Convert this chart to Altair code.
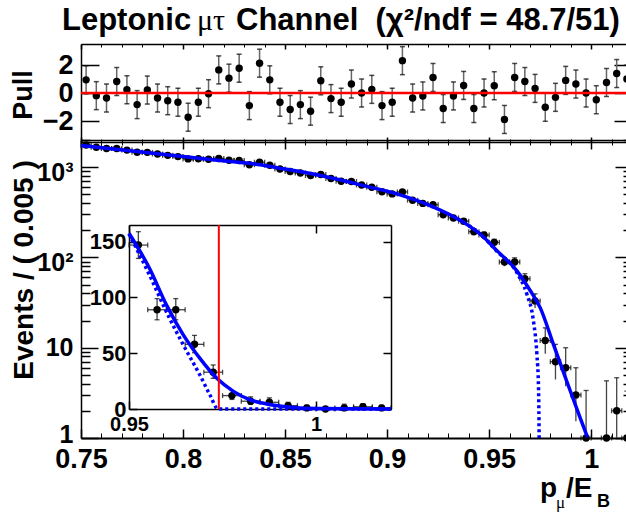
import altair as alt
import pandas as pd

# ---------------- data ----------------
bin_x = [0.7525, 0.7575, 0.7625, 0.7675, 0.7725, 0.7775, 0.7825, 0.7875, 0.7925, 0.7975,
         0.8025, 0.8075, 0.8125, 0.8175, 0.8225, 0.8275, 0.8325, 0.8375, 0.8425, 0.8475,
         0.8525, 0.8575, 0.8625, 0.8675, 0.8725, 0.8775, 0.8825, 0.8875, 0.8925, 0.8975,
         0.9025, 0.9075, 0.9125, 0.9175, 0.9225, 0.9275, 0.9325, 0.9375, 0.9425, 0.9475,
         0.9525, 0.9575, 0.9625, 0.9675, 0.9725, 0.9775, 0.9825, 0.9875, 0.9925, 0.9975,
         1.0025, 1.0075, 1.0125, 1.0175]
counts = [1757, 1662, 1609, 1612, 1545, 1461, 1459, 1397, 1352, 1310,
          1235, 1238, 1224, 1249, 1194, 1185, 1065, 1135, 1049, 954,
          894, 862, 808, 831, 749, 699, 693, 634, 599, 535,
          506, 532, 431, 397, 383, 297, 274, 252, 193, 177,
          147, 89, 89, 58, 33, 12, 7, 6, 3, 1,
          0, 1, 2, 1]
count_lo = [1715, 1621, 1569, 1572, 1506, 1423, 1421, 1360, 1315, 1274,
            1200, 1203, 1189, 1214, 1159, 1151, 1032, 1101, 1017, 923,
            864, 833, 780, 802, 722, 673, 667, 609, 575, 512,
            484, 509, 410, 377, 363, 280, 257, 236, 179, 164,
            135, 80, 80, 50.5, 27.5, 8.6, 4.45, 3.75, 1.53, 0.2,
            0, 0.2, 0.7, 0.2]
count_hi = [1799, 1703, 1649, 1652, 1584, 1499, 1497, 1434, 1389, 1346,
            1270, 1273, 1259, 1284, 1229, 1219, 1098, 1169, 1081, 985,
            924, 891, 836, 860, 776, 725, 719, 659, 623, 558,
            528, 555, 452, 417, 403, 314, 291, 268, 207, 190,
            159, 99, 99, 66, 39.5, 16.6, 10.9, 10, 6.0, 3.36,
            1.15, 4.3, 4.65, 3.3]
pulls = [0.94, -0.19, -0.36, 0.82, 0.23, -0.83, 0.21, -0.36, -0.55, -0.66,
         -1.73, -0.66, -0.05, 1.65, 1.06, 1.77, -0.9, 2.13, 0.94, -0.66,
         -1.18, -0.83, -1.3, 0.87, -0.4, -0.66, 0.64, 0.0, 0.26, -0.9,
         -0.66, 2.31, -0.36, -0.21, 1.11, -1.11, -0.21, 0.54, -1.11, 0.0,
         0.52, -1.89, 1.11, 0.82, 0.33, -1.02, -0.31, 0.9, 0.64, 0.0,
         -0.48, 0.75, 1.39, 1.0]
pull_err = 1.0
bin_half = 0.0025

fit_x = [0.75, 0.775, 0.80, 0.8181, 0.8377, 0.8492, 0.8672, 0.8819, 0.8884, 0.9047,
         0.9211, 0.9374, 0.9456, 0.9538, 0.9636, 0.9701, 0.975, 0.9815, 0.988, 0.9946, 0.9982]
fit_y = [1742, 1514, 1315, 1187, 1064, 960, 809, 681, 625, 506,
         375, 245, 182, 119, 71, 43, 27.8, 10.9, 4.27, 1.67, 1.02]
dot_x = [0.9374, 0.9456, 0.9538, 0.9636, 0.9685, 0.9717, 0.9734, 0.9742, 0.9745]
dot_y = [245, 182, 117, 68, 39, 19.8, 8.4, 3.6, 1.0]

inset_fit_x = [0.95, 0.9555, 0.96, 0.9645, 0.9689, 0.9734, 0.9779, 0.9823, 0.9868, 0.9912, 0.9957, 1.0, 1.02]
inset_fit_y = [157.6, 126, 93.4, 66.5, 45.6, 27.7, 15.8, 8.3, 4.5, 2.3, 1.0, 0.5, 0.0]
inset_dot_x = [0.95, 0.9555, 0.96, 0.9645, 0.9689, 0.9716, 0.9738, 1.02]
inset_dot_y = [157, 120, 87, 57.5, 30.7, 12.8, 0.0, 0.0]
endpoint = [0.974]

x_major = [0.75, 0.8, 0.85, 0.9, 0.95, 1.0]
x_minor = [0.76, 0.77, 0.78, 0.79, 0.81, 0.82, 0.83, 0.84, 0.86, 0.87, 0.88, 0.89,
           0.91, 0.92, 0.93, 0.94, 0.96, 0.97, 0.98, 0.99, 1.01, 1.02]
y_major = [1, 10, 100, 1000]
y_labels_sup = [100, 1000]
y_labels_ten = [10]
y_labels_one = [1]
y_minor = [2, 3, 4, 5, 6, 7, 8, 9, 20, 30, 40, 50, 60, 70, 80, 90,
           200, 300, 400, 500, 600, 700, 800, 900, 2000]
pull_ticks = [-2, 0, 2]
inset_x_ticks = [0.95, 1.0]
inset_y_ticks = [0, 50, 100, 150]

# ---------------- frames ----------------
W, H = 626, 513
FONT = "Liberation Sans, Arial, sans-serif"
SERIF = "Liberation Serif, DejaVu Serif, serif"

def sx_main():
    return alt.Scale(domain=[0.75, 1.02], range=[81, 632], nice=False, zero=False)

def sy_pull():
    return alt.Scale(domain=[-3.5, 3.5], range=[142, 44], nice=False, zero=False)

def sy_main():
    return alt.Scale(type="log", domain=[1, 2000], range=[438, 140], nice=False)

def sx_in():
    return alt.Scale(domain=[0.95, 1.02], range=[129, 391], nice=False, zero=False)

def sy_in():
    return alt.Scale(domain=[0, 165], range=[409, 225], nice=False, zero=False)

df = pd.DataFrame({"x": bin_x, "n": counts, "lo": count_lo, "hi": count_hi, "pull": pulls})
df["xl"] = df["x"] - bin_half
df["xr"] = df["x"] + bin_half
df["plo"] = df["pull"] - pull_err
df["phi"] = df["pull"] + pull_err
df_log = df[df["n"] > 0].copy()
df_log["lo"] = df_log["lo"].clip(lower=1)
df_in = df[df["x"] > 0.95].copy()

fit_df = pd.DataFrame({"x": fit_x, "y": fit_y})
dot_df = pd.DataFrame({"x": dot_x, "y": dot_y})
ifit_df = pd.DataFrame({"x": inset_fit_x, "y": inset_fit_y})
idot_df = pd.DataFrame({"x": inset_dot_x, "y": inset_dot_y})
end_df = pd.DataFrame({"x": endpoint, "y0": [0], "y1": [165]})
zero_df = pd.DataFrame({"xa": [0.75], "xb": [1.02], "y": [0.0]})

dummy = pd.DataFrame({"v": [1.0]})
AX = dict(title=None, grid=False, domainColor="black", tickColor="black",
          labelColor="black", labelFont=FONT, labelFontWeight="bold",
          labelFlush=False, labelOverlap=False, labelBound=False)

def xaxis(scale, **kw):
    a = dict(AX); a.update(kw)
    return alt.Chart(dummy).mark_point(opacity=0, size=1).encode(
        x=alt.X("v:Q", scale=scale, axis=alt.Axis(**a)), y=alt.value(0))

def yaxis(scale, **kw):
    a = dict(AX); a.update(kw)
    return alt.Chart(dummy).mark_point(opacity=0, size=1).encode(
        y=alt.Y("v:Q", scale=scale, axis=alt.Axis(**a)), x=alt.value(0))

LOGLAB = "datum.value == 1000 ? '10\u00b3' : datum.value == 100 ? '10\u00b2' : datum.value == 10 ? '10' : '1'"

layers = []
# ---- pull panel frame ----
fw = 1.5
layers += [
    xaxis(sx_main(), orient="top", offset=-142, values=x_major, tickSize=5, tickWidth=fw, domainWidth=fw, labels=False),
    xaxis(sx_main(), orient="top", offset=-142, values=x_minor, tickSize=3, tickWidth=1, domain=False, labels=False),
    xaxis(sx_main(), orient="bottom", offset=44 - H, values=x_major, tickSize=5, tickWidth=fw, domainWidth=fw, labels=False),
    xaxis(sx_main(), orient="bottom", offset=44 - H, values=x_minor, tickSize=3, tickWidth=1, domain=False, labels=False),
    yaxis(sy_pull(), orient="right", offset=81 - W, values=pull_ticks, tickSize=18, tickWidth=fw, domainWidth=fw, labels=False),
    yaxis(sy_pull(), orient="left", offset=-632, values=pull_ticks, tickSize=18, tickWidth=fw, domainWidth=fw, labels=False),
    yaxis(sy_pull(), orient="left", offset=-81, values=pull_ticks, ticks=False, domain=False,
          labelPadding=8, labelFontSize=27, format="d"),
]
# ---- main panel frame ----
layers += [
    xaxis(sx_main(), orient="bottom", offset=140 - H, values=x_major, tickSize=9, tickWidth=fw, domainWidth=fw, labels=False),
    xaxis(sx_main(), orient="bottom", offset=140 - H, values=x_minor, tickSize=5, tickWidth=1, domain=False, labels=False),
    xaxis(sx_main(), orient="top", offset=-438, values=x_major, tickSize=9, tickWidth=fw, domainWidth=2, labels=False),
    xaxis(sx_main(), orient="top", offset=-438, values=x_minor, tickSize=5, tickWidth=1, domain=False, labels=False),
    xaxis(sx_main(), orient="bottom", offset=438 - H, values=x_major, ticks=False, domain=False,
          labelPadding=8, labelFontSize=27, format="~g"),
    yaxis(sy_main(), orient="right", offset=81 - W, values=y_major, tickSize=17, tickWidth=fw, domainWidth=fw, labels=False),
    yaxis(sy_main(), orient="right", offset=81 - W, values=y_minor, tickSize=9, tickWidth=fw, domain=False, labels=False),
    yaxis(sy_main(), orient="left", offset=-632, values=y_major, tickSize=17, tickWidth=fw, domainWidth=fw, labels=False),
    yaxis(sy_main(), orient="left", offset=-632, values=y_minor, tickSize=9, tickWidth=fw, domain=False, labels=False),
    yaxis(sy_main(), orient="left", offset=-81, values=y_labels_sup, ticks=False, domain=False,
          labelPadding=8, labelFontSize=25, labelOffset=5, labelExpr=LOGLAB),
    yaxis(sy_main(), orient="left", offset=-81, values=y_labels_ten, ticks=False, domain=False,
          labelPadding=8, labelFontSize=25, labelExpr=LOGLAB),
    yaxis(sy_main(), orient="left", offset=-81, values=y_labels_one, ticks=False, domain=False,
          labelPadding=8, labelFontSize=25, labelOffset=-4, labelExpr=LOGLAB),
]
# ---- inset frame ----
layers += [
    xaxis(sx_in(), orient="top", offset=-409, values=inset_x_ticks, tickSize=8, tickWidth=fw, domainWidth=fw, labels=False),
    xaxis(sx_in(), orient="bottom", offset=225 - H, values=inset_x_ticks, tickSize=8, tickWidth=fw, domainWidth=fw, labels=False),
    xaxis(sx_in(), orient="bottom", offset=409 - H, values=inset_x_ticks, ticks=False, domain=False,
          labelPadding=5, labelFontSize=20, format="~g"),
    yaxis(sy_in(), orient="right", offset=129 - W, values=inset_y_ticks, tickSize=8, tickWidth=fw, domainWidth=fw, labels=False),
    yaxis(sy_in(), orient="left", offset=-391, values=inset_y_ticks, tickSize=8, tickWidth=fw, domainWidth=fw, labels=False),
    yaxis(sy_in(), orient="left", offset=-129, values=inset_y_ticks, ticks=False, domain=False,
          labelPadding=3, labelFontSize=22, format="d"),
]

ERRC = "#444444"
# ---- pull data ----
pull_base = alt.Chart(df)
layers += [
    pull_base.mark_rule(color="#666666", strokeWidth=1.5).encode(
        x=alt.X("x:Q", scale=sx_main(), axis=None),
        y=alt.Y("plo:Q", scale=sy_pull(), axis=None), y2="phi:Q"),
    pull_base.mark_tick(orient="horizontal", size=5, thickness=1.5, color="black").encode(
        x=alt.X("x:Q", scale=sx_main(), axis=None), y=alt.Y("plo:Q", scale=sy_pull(), axis=None)),
    pull_base.mark_tick(orient="horizontal", size=5, thickness=1.5, color="black").encode(
        x=alt.X("x:Q", scale=sx_main(), axis=None), y=alt.Y("phi:Q", scale=sy_pull(), axis=None)),
    pull_base.mark_circle(size=55, color="black", opacity=1).encode(
        x=alt.X("x:Q", scale=sx_main(), axis=None), y=alt.Y("pull:Q", scale=sy_pull(), axis=None)),
    alt.Chart(zero_df).mark_rule(color="#ff0000", strokeWidth=2.5).encode(
        x=alt.X("xa:Q", scale=sx_main(), axis=None), x2="xb:Q",
        y=alt.Y("y:Q", scale=sy_pull(), axis=None)),
]

# ---- main data ----
mb = alt.Chart(df_log)
layers += [
    mb.mark_rule(color=ERRC, strokeWidth=1.3).encode(
        x=alt.X("x:Q", scale=sx_main(), axis=None),
        y=alt.Y("lo:Q", scale=sy_main(), axis=None), y2="hi:Q"),
    mb.mark_tick(orient="horizontal", size=5, thickness=1.3, color="black").encode(
        x=alt.X("x:Q", scale=sx_main(), axis=None), y=alt.Y("hi:Q", scale=sy_main(), axis=None)),
    mb.mark_rule(color=ERRC, strokeWidth=1.3).encode(
        x=alt.X("xl:Q", scale=sx_main(), axis=None), x2="xr:Q",
        y=alt.Y("n:Q", scale=sy_main(), axis=None)),
    mb.mark_tick(orient="vertical", size=5, thickness=1.3, color="black").encode(
        x=alt.X("xl:Q", scale=sx_main(), axis=None), y=alt.Y("n:Q", scale=sy_main(), axis=None)),
    mb.mark_tick(orient="vertical", size=5, thickness=1.3, color="black").encode(
        x=alt.X("xr:Q", scale=sx_main(), axis=None), y=alt.Y("n:Q", scale=sy_main(), axis=None)),
    mb.mark_circle(size=55, color="black", opacity=1).encode(
        x=alt.X("x:Q", scale=sx_main(), axis=None), y=alt.Y("n:Q", scale=sy_main(), axis=None)),
    alt.Chart(dot_df).mark_line(color="#0000ff", strokeWidth=3.5, strokeDash=[3, 3], interpolate="monotone").encode(
        x=alt.X("x:Q", scale=sx_main(), axis=None), y=alt.Y("y:Q", scale=sy_main(), axis=None)),
    alt.Chart(fit_df).mark_line(color="#0000ff", strokeWidth=3.5, interpolate="monotone").encode(
        x=alt.X("x:Q", scale=sx_main(), axis=None), y=alt.Y("y:Q", scale=sy_main(), axis=None)),
]

# ---- inset data ----
ib = alt.Chart(df_in)
layers += [
    ib.mark_rule(color=ERRC, strokeWidth=1.3).encode(
        x=alt.X("x:Q", scale=sx_in(), axis=None),
        y=alt.Y("lo:Q", scale=sy_in(), axis=None), y2="hi:Q"),
    ib.mark_tick(orient="horizontal", size=5, thickness=1.3, color="black").encode(
        x=alt.X("x:Q", scale=sx_in(), axis=None), y=alt.Y("hi:Q", scale=sy_in(), axis=None)),
    ib.mark_tick(orient="horizontal", size=5, thickness=1.3, color="black").encode(
        x=alt.X("x:Q", scale=sx_in(), axis=None), y=alt.Y("lo:Q", scale=sy_in(), axis=None)),
    ib.mark_rule(color=ERRC, strokeWidth=1.3).encode(
        x=alt.X("xl:Q", scale=sx_in(), axis=None), x2="xr:Q",
        y=alt.Y("n:Q", scale=sy_in(), axis=None)),
    ib.mark_tick(orient="vertical", size=5, thickness=1.3, color="black").encode(
        x=alt.X("xl:Q", scale=sx_in(), axis=None), y=alt.Y("n:Q", scale=sy_in(), axis=None)),
    ib.mark_tick(orient="vertical", size=5, thickness=1.3, color="black").encode(
        x=alt.X("xr:Q", scale=sx_in(), axis=None), y=alt.Y("n:Q", scale=sy_in(), axis=None)),
    ib.mark_circle(size=55, color="black", opacity=1).encode(
        x=alt.X("x:Q", scale=sx_in(), axis=None), y=alt.Y("n:Q", scale=sy_in(), axis=None)),
    alt.Chart(idot_df).mark_line(color="#0000ff", strokeWidth=3.5, strokeDash=[3, 3], interpolate="monotone").encode(
        x=alt.X("x:Q", scale=sx_in(), axis=None), y=alt.Y("y:Q", scale=sy_in(), axis=None)),
    alt.Chart(ifit_df).mark_line(color="#0000ff", strokeWidth=3.5, interpolate="monotone").encode(
        x=alt.X("x:Q", scale=sx_in(), axis=None), y=alt.Y("y:Q", scale=sy_in(), axis=None)),
    alt.Chart(end_df).mark_rule(color="#ff0000", strokeWidth=2).encode(
        x=alt.X("x:Q", scale=sx_in(), axis=None),
        y=alt.Y("y0:Q", scale=sy_in(), axis=None), y2="y1:Q"),
]

# ---- texts ----
def txt(text, x, y, size, angle=0, align="center", font=FONT, weight="bold", baseline="alphabetic"):
    return alt.Chart(dummy).mark_text(text=text, x=x, y=y, fontSize=size, angle=angle, align=align,
                                      font=font, fontWeight=weight, baseline=baseline, color="black")

layers += [
    txt("Leptonic", 62, 30, 31, align="left"),
    txt("\u03bc\u03c4", 197, 30, 30, align="left", font=SERIF, weight="normal"),
    txt("Channel\u00a0\u00a0(\u03c7\u00b2/ndf = 48.7/51)", 236, 30, 31, align="left"),
    txt("Pull", 24, 95, 27, angle=270, baseline="middle"),
    txt("Events / ( 0.005 )", 25, 270, 28, angle=270, baseline="middle"),
    txt("p", 540, 497, 28, align="left"),
    txt("\u03bc", 556, 508, 17, align="left", font=SERIF, weight="normal"),
    txt("/E", 566, 497, 28, align="left"),
    txt("B", 597, 507, 18, align="left"),
]

chart = alt.layer(*layers).resolve_scale(x="independent", y="independent").properties(
    width=W, height=H, autosize=alt.AutoSizeParams(type="none", contains="padding"),
    padding=0, background="white"
).configure_view(stroke=None)

chart.save("out.html", embed_options={"renderer": "svg", "actions": False})
